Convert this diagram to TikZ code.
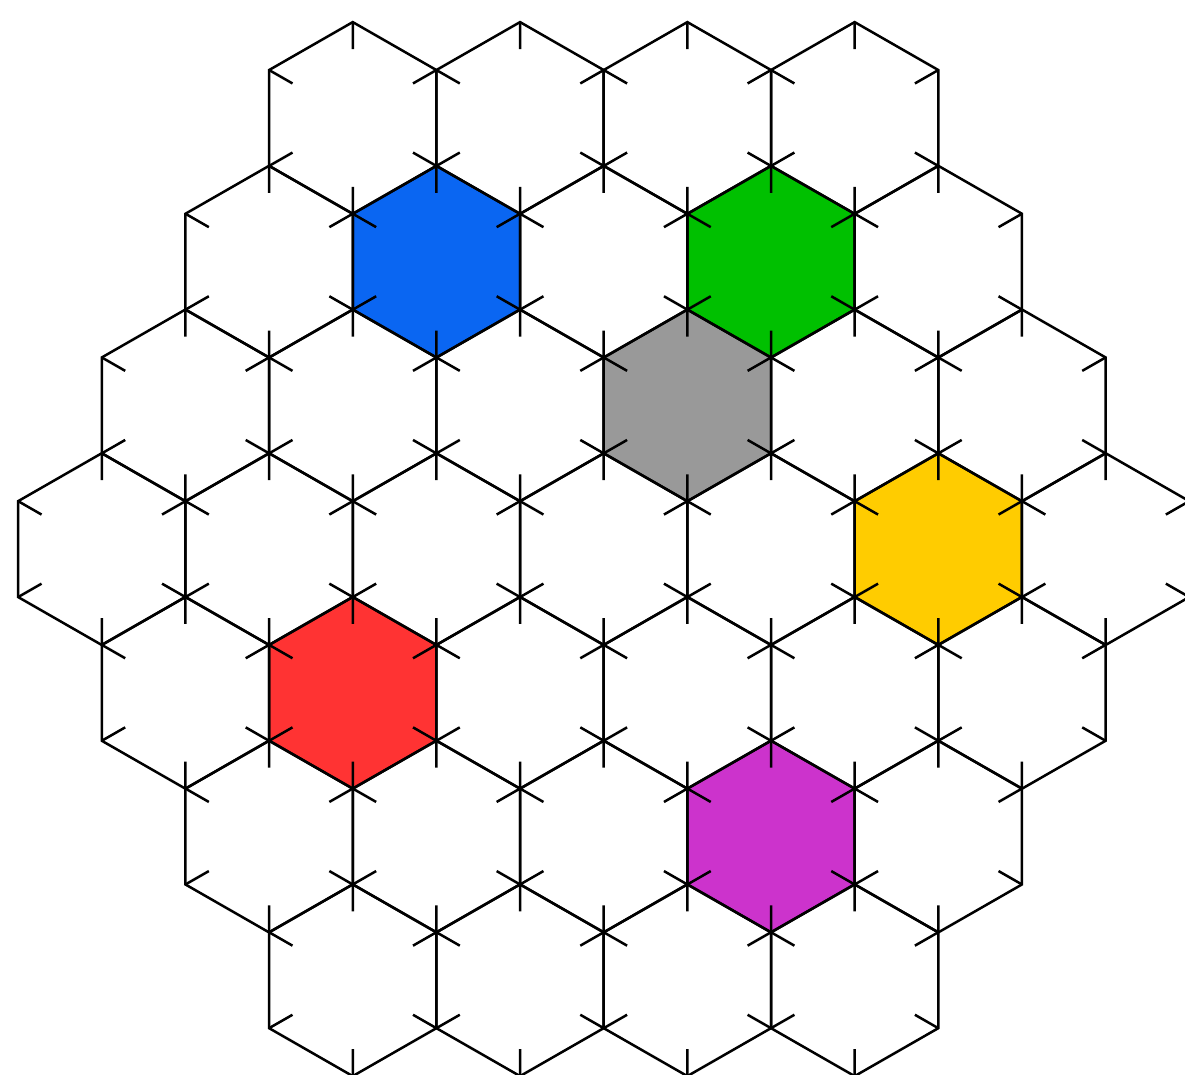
\documentclass[tikz,border=0pt]{standalone}
\definecolor{hblue}{RGB}{10,102,242}
\definecolor{hgreen}{RGB}{0,192,0}
\definecolor{hgray}{RGB}{153,153,153}
\definecolor{hyellow}{RGB}{255,204,0}
\definecolor{hred}{RGB}{255,51,51}
\definecolor{hpurple}{RGB}{204,51,204}
\begin{document}
\begin{tikzpicture}[x=1pt,y=-1pt,
  hexline/.style={black,line width=2.5pt,line join=miter},
  hexa/.pic={
    \draw[hexline] (0,-95.9) -- (83.65,-47.95) -- (83.65,47.95) -- (0,95.9) -- (-83.65,47.95) -- (-83.65,-47.95) -- cycle;
    \draw[hexline] (0,-95.9) -- (0,-68.9)
                   (83.65,-47.95) -- (60.25,-34.55)
                   (83.65,47.95) -- (60.25,34.55)
                   (0,95.9) -- (0,68.9)
                   (-83.65,47.95) -- (-60.25,34.55)
                   (-83.65,-47.95) -- (-60.25,-34.55);
  },
  hexfill/.pic={
    \fill (0,-95.9) -- (83.65,-47.95) -- (83.65,47.95) -- (0,95.9) -- (-83.65,47.95) -- (-83.65,-47.95) -- cycle;
  }]
\useasboundingbox (0,0) rectangle (1185,1074);
\clip (0,0) rectangle (1185,1074);
\fill[white] (0,0) rectangle (1185,1074);
% coloured cells: row/count/index/colour
\foreach \r/\n/\k/\c in {1/5/2/hblue, 1/5/4/hgreen, 2/6/4/hgray, 3/7/6/hyellow, 4/6/2/hred, 5/5/4/hpurple}{
  \pgfmathsetmacro{\yy}{118+143.7*\r}
  \pgfmathsetmacro{\xx}{101.8+83.65*(7-\n)+167.3*(\k-1)}
  \pic[fill=\c] (cell-\r-\k) at (\xx,\yy) {hexfill};
}
% grid of cells with ticks
\foreach \r/\n in {0/4,1/5,2/6,3/7,4/6,5/5,6/4}{
  \foreach \k in {1,...,\n}{
    \pgfmathsetmacro{\yy}{118+143.7*\r}
    \pgfmathsetmacro{\xx}{101.8+83.65*(7-\n)+167.3*(\k-1)}
    \pic (hex-\r-\k) at (\xx,\yy) {hexa};
  }
}
\end{tikzpicture}
\end{document}
